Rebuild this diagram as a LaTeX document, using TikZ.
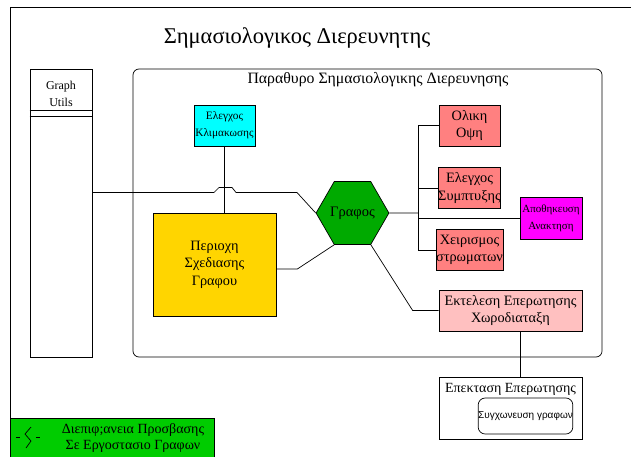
\documentclass[tikz,border=0pt]{standalone}
\usepackage{fontspec}
\setmainfont{Liberation Serif}
\newfontfamily\arialfont{Liberation Sans}
\usepackage{xcolor}
\usepackage{tikz}
\usetikzlibrary{positioning}
\usetikzlibrary{shapes.geometric}
\definecolor{scalecyan}{HTML}{00FFFF}
\definecolor{areagold}{HTML}{FFD500}
\definecolor{graphgreen}{HTML}{00AA00}
\definecolor{legendgreen}{HTML}{00CC00}
\definecolor{salmon}{HTML}{FF8080}
\definecolor{storemagenta}{HTML}{FF00FF}
\definecolor{querypink}{HTML}{FFC0C0}
\tikzset{link/.style = {draw, line width=0.7pt}}

\begin{document}
\begin{tikzpicture}[x=1pt,y=-1pt,line width=0.7pt,box node/.style={rectangle,draw,align=center,inner sep=0pt,font=\fontsize{14.3}{17.5}\selectfont},small node/.style={box node,font=\fontsize{11}{17}\selectfont}]
                    \useasboundingbox (0,0) rectangle (631,457);
                    % outer frame
                    \draw (631,7.5) -- (10.5,7.5) -- (10.5,418);
                    \node (title) at (297,38) {\fontsize{22.5}{26}\selectfont Σημασιολογικος Διερευνητης};

                    % left column
                    \node[draw,minimum width=62pt,minimum height=288pt,inner sep=0pt] (utils) at (61,213) {};
                    \node[align=center,font=\fontsize{12}{17}\selectfont] (utilstext) at (61,94) {Graph\\Utils};
                    \draw (utils.west |- 0,110) -- (utils.east |- 0,110);
                    \draw (utils.west |- 0,116) -- (utils.east |- 0,116);

                    % window
                    \node[draw,rounded corners=6pt,minimum width=469pt,minimum height=288pt] (window) at (367.5,213) {};
                    \node[font=\fontsize{15.8}{17}\selectfont] (wintitle) at (378,80) {Παραθυρο Σημασιολογικης Διερευνησης};

                    \node[small node,font=\fontsize{11.3}{17}\selectfont,fill=scalecyan,minimum width=61pt,minimum height=41pt] (scale) at (224.5,125.5) {Ελεγχος\\Κλιμακωσης};
                    \node[box node,fill=areagold,minimum width=123pt,minimum height=103pt] (area) at (214.5,264.5) {Περιοχη\\Σχεδιασης\\Γραφου};
                    \node[regular polygon,regular polygon sides=6,draw,fill=graphgreen,minimum size=71pt,inner sep=0pt,font=\fontsize{14.5}{17}\selectfont] (graph) at (352.5,213) {Γραφος};

                    \node[box node,fill=salmon,minimum width=61pt,minimum height=41pt] (overview) at (469.5,125.5) {Ολικη\\Οψη};
                    \node[box node,fill=salmon,minimum width=61pt,minimum height=41pt] (collapse) [below=21pt of overview] {Ελεγχος\\Συμπτυξης};
                    \node[box node,fill=salmon,minimum width=61pt,minimum height=41pt] (layers) [below=20pt of collapse] {Χειρισμος\\στρωματων};
                    \node[small node,fill=storemagenta,minimum width=62pt,minimum height=42pt] (store) at (551,218) {Αποθηκευση\\Ανακτηση};
                    \node[box node,fill=querypink,minimum width=143pt,minimum height=41pt] (query) at (510.5,310.5) {Εκτελεση Επερωτησης\\Χωροδιαταξη};

                    % extension
                    \node[draw,minimum width=143pt,minimum height=62pt] (extend) at (510.5,408) {};
                    \node[font=\fontsize{14}{17}\selectfont] (extendtext) at (510.5,389) {Επεκταση Επερωτησης};
                    \node[draw,rounded corners=7pt,minimum width=93pt,minimum height=36pt,inner sep=0pt,font=\arialfont\fontsize{10}{12}\selectfont] (merge) at (525.5,416) {Συγχωνευση γραφων};

                    % legend
                    \node[draw,fill=legendgreen,minimum width=204pt,minimum height=40pt,inner sep=0pt] (legend) at (112,438) {};
                    \node[align=center,font=\fontsize{14}{15.5}\selectfont] (legendtext) at (133,438) {Διεπιφ;ανεια Προσβασης\\Σε Εργοστασιο Γραφων};
                    \draw (16,437.5) -- (20,437.5);
                    \draw (31,427) -- (25,434) -- (31,441) -- (26,448);
                    \draw (36,437.5) -- (40,437.5);

                    % connectors
                    \coordinate (bus) at (418,213);
                    \draw (utils.east |- 0,192.5) -- (214,192.5) -- (219,187.5) -- (232,187.5) -- (236,192.5) -- (297,192.5) -- (graph.180);
                    \path[link] (scale.south) edge (scale.south |- area.north);
                    \draw ([yshift=-4.5pt]area.east) -- ++(21,0) -- (graph.240);
                    \draw (graph.300) -- ([xshift=-26pt]query.west) -- (query.west);
                    \path[link] (graph.0) edge (bus);
                    \draw (overview.west) -- (overview.west -| bus) -- (layers.west -| bus) -- (layers.west);
                    \path[link] (collapse.west) edge (collapse.west -| bus);
                    \path[link] (store.west) edge (store.west -| bus);
                    \path[link] ([xshift=9.5pt]query.south) edge ([xshift=9.5pt]extend.north);
                \end{tikzpicture}
\end{document}
